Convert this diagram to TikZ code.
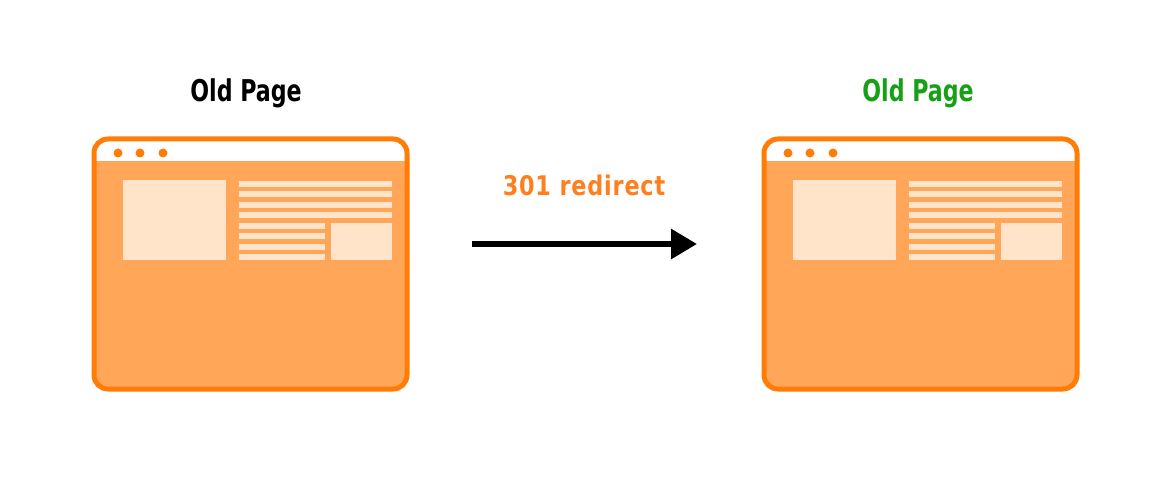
\documentclass[tikz,border=0pt]{standalone}
\usepackage{fontspec}
\usetikzlibrary{arrows.meta}
\newfontfamily\ttlfont{DejaVu Sans Condensed}[FakeStretch=0.82]
\newfontfamily\redfont{DejaVu Sans Condensed}[FakeStretch=0.92, LetterSpace=3]
\definecolor{brd}{HTML}{FF7C06}
\definecolor{body}{HTML}{FFA658}
\definecolor{pale}{HTML}{FFE4C9}
\definecolor{okgreen}{HTML}{16A016}
\definecolor{redir}{HTML}{FF7F1E}
\tikzset{
  ttl/.style={font=\ttlfont\bfseries\fontsize{30}{33}\selectfont, inner sep=0pt, anchor=base},
  paleblk/.style={fill=pale, draw=none},
  pics/browserwin/.style={code={
    \fill[body, rounded corners=14pt] (94,139) rectangle (407,389);
    \begin{scope}
      \clip[rounded corners=14pt] (94,139) rectangle (407,389);
      \fill[white] (94,139) rectangle (407,161);
    \end{scope}
    \draw[brd, line width=5pt, rounded corners=14pt] (94,139) rectangle (407,389);
    \foreach \dx in {118,140,163} \fill[brd] (\dx,153) circle (4.5);
    \fill[paleblk] (122.7,180) rectangle (225.7,260);
    \fill[paleblk] (331.3,223) rectangle (392.3,260);
    \foreach \t in {180.7,191.2,201.7,212.3} \fill[paleblk] (238.7,\t) rectangle (392.3,\t+6);
    \foreach \t in {223,233.4,243.8,254.3} \fill[paleblk] (238.7,\t) rectangle (325,\t+6);
  }}
}
\begin{document}
\begin{tikzpicture}[x=1pt,y=-1pt]
\useasboundingbox[fill=white] (0,0) rectangle (1170,500);
\pic at (0,0) {browserwin};
\pic at (670,0) {browserwin};
\node[ttl, text=black] (oldtitle) at (246,101.5) {Old Page};
\node[ttl, text=okgreen] (newtitle) at (918,101.5) {Old Page};
\node[ttl, text=redir, font=\redfont\bfseries\fontsize{27}{30}\selectfont] (lbl) at (584,195) {301 redirect};
\coordinate (as) at (472,244);
\coordinate (ae) at (697,244);
\draw[line width=6pt, -{Triangle[length=26pt,width=29pt]}] (as) -- (ae);
\end{tikzpicture}
\end{document}
